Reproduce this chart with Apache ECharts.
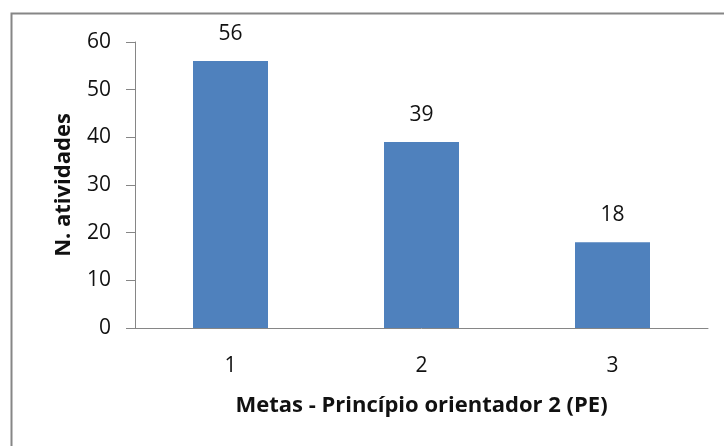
<!DOCTYPE html>
<html>
<head>
<meta charset="utf-8">
<script src="https://cdn.jsdelivr.net/npm/echarts@6/dist/echarts.min.js"></script>
<style>html,body{margin:0;padding:0;background:#fff;}#c{width:724px;height:446px;}</style>
</head>
<body>
<div id="c"></div>
<script>
const categories = ['1', '2', '3'];
const values = [56, 39, 18];
const yTicks = [0, 10, 20, 30, 40, 50, 60];
const xTitle = 'Metas - Princípio orientador 2 (PE)';
const yTitle = 'N. atividades';

const FONT = 'Open Sans';
const chart = echarts.init(document.getElementById('c'), null, {renderer: 'canvas'});
chart.setOption({
  animation: false,
  backgroundColor: '#fff',
  graphic: [{
    type: 'rect', left: 9, top: 11, shape: {width: 760, height: 480},
    style: {fill: 'none', stroke: '#868686', lineWidth: 2}, silent: true
  }],
  grid: {left: 135, top: 42, right: 16, bottom: 118, containLabel: false},
  xAxis: {
    type: 'category', data: categories,
    name: xTitle, nameLocation: 'middle', nameGap: 67,
    nameTextStyle: {fontFamily: FONT, fontWeight: 'bold', fontSize: 22, color: '#111'},
    axisLine: {show: true, lineStyle: {color: '#868686', width: 1}},
    axisTick: {show: false},
    axisLabel: {fontFamily: FONT, fontSize: 21, color: '#111', margin: 28}
  },
  yAxis: {
    type: 'value', min: yTicks[0], max: yTicks[yTicks.length - 1], interval: 10,
    name: yTitle, nameLocation: 'middle', nameGap: 60, nameRotate: 90,
    nameTextStyle: {fontFamily: FONT, fontWeight: 'bold', fontSize: 22, color: '#111'},
    axisLine: {show: true, lineStyle: {color: '#868686', width: 1}},
    axisTick: {show: true, length: 9, lineStyle: {color: '#868686'}},
    splitLine: {show: false},
    axisLabel: {fontFamily: FONT, fontSize: 21, color: '#111', margin: 24}
  },
  series: [{
    type: 'bar', data: values, barWidth: 75,
    itemStyle: {color: '#4F81BD'},
    label: {show: true, position: 'top', distance: 17, fontFamily: FONT, fontSize: 21, color: '#111'}
  }]
});
</script>
</body>
</html>
